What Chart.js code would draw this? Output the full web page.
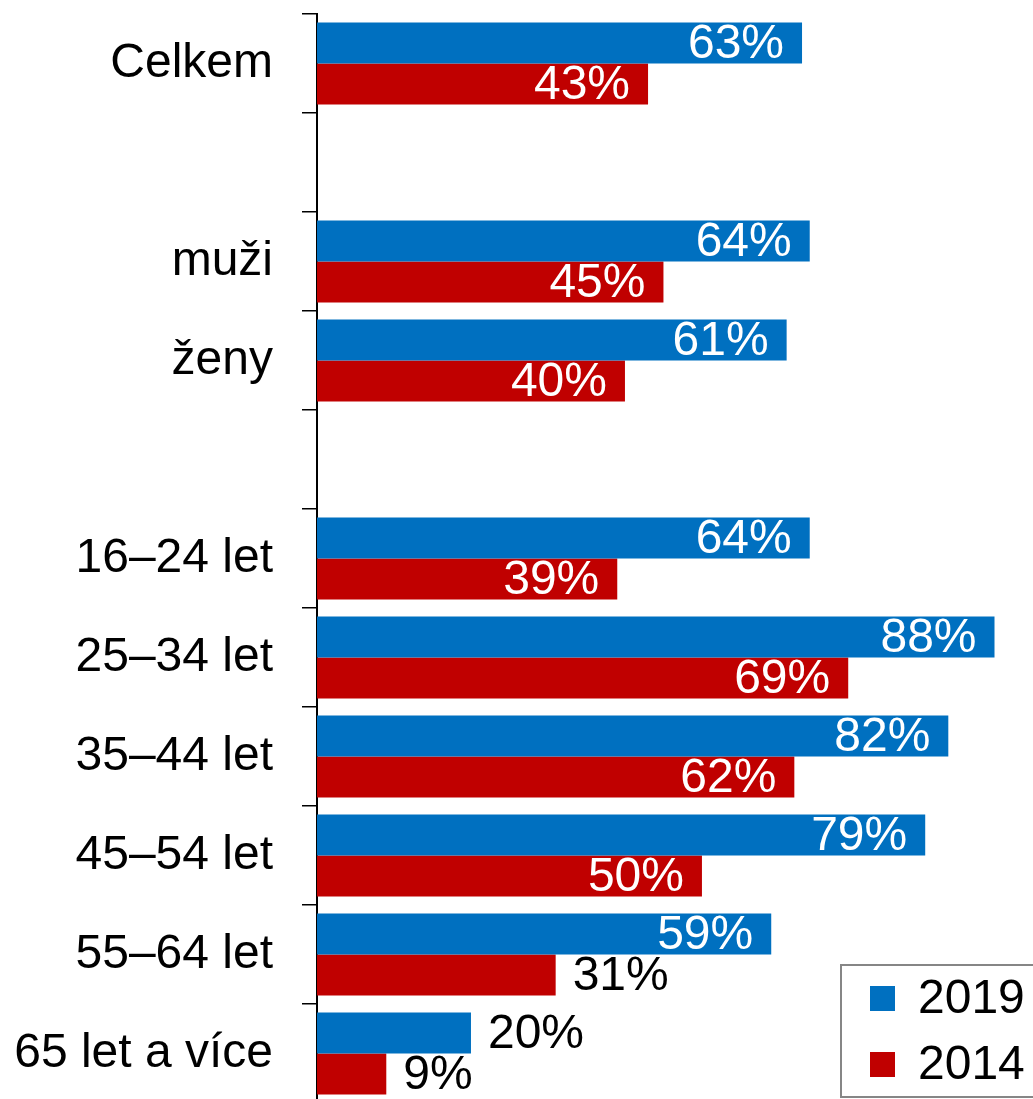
<!DOCTYPE html>
<html>
<head>
<meta charset="utf-8">
<script src="https://cdn.jsdelivr.net/npm/chart.js@4"></script>
<style>
  html, body { margin: 0; padding: 0; background: #fff; overflow: hidden; }
  #obal { width: 1033px; height: 1110px; }
</style>
</head>
<body>
<div id="obal"><canvas id="graf"></canvas></div>
<script>
// DATA
const kategorie = ["Celkem", "", "muži", "ženy", "", "16–24 let", "25–34 let", "35–44 let", "45–54 let", "55–64 let", "65 let a více"];
const hodnoty2019 = [63, null, 64, 61, null, 64, 88, 82, 79, 59, 20];
const hodnoty2014 = [43, null, 45, 40, null, 39, 69, 62, 50, 31, 9];
const roky = ["2019", "2014"];

const modra = "#0070C0";
const cervena = "#C00000";
const pismo = "'Liberation Sans', Arial, sans-serif";
const velikost = 48;
const mezVenku = 35; // pod touto hodnotou je popisek za sloupcem

// popisky u sloupcu
const popiskyPlugin = {
    id: "popisky",
    afterDatasetsDraw(chart) {
        const ctx = chart.ctx;
        ctx.save();
        ctx.font = velikost + "px " + pismo;
        ctx.textBaseline = "middle";
        chart.data.datasets.forEach((ds, i) => {
            const meta = chart.getDatasetMeta(i);
            meta.data.forEach((bar, j) => {
                const v = ds.data[j];
                if (v === null) return;
                const text = v + "%";
                if (v < mezVenku) {
                    ctx.fillStyle = "#000";
                    ctx.textAlign = "left";
                    ctx.fillText(text, bar.x + 17, bar.y + 2);
                } else {
                    ctx.fillStyle = "#fff";
                    ctx.textAlign = "right";
                    ctx.fillText(text, bar.x - 18, bar.y + 2);
                }
            });
        });
        ctx.restore();
    }
};

// legenda v ramecku vpravo dole
const legendaPlugin = {
    id: "legenda",
    afterDraw(chart) {
        const ctx = chart.ctx;
        const x = 841, y = 965;
        ctx.save();
        ctx.strokeStyle = "#868686";
        ctx.lineWidth = 2;
        ctx.fillStyle = "#fff";
        ctx.fillRect(x, y, 220, 132);
        ctx.strokeRect(x, y, 220, 132);
        ctx.font = velikost + "px " + pismo;
        ctx.textBaseline = "middle";
        ctx.textAlign = "left";
        chart.data.datasets.forEach((ds, i) => {
            const yy = y + 21 + i * 66;
            ctx.fillStyle = ds.backgroundColor;
            ctx.fillRect(x + 29, yy, 25, 25);
            ctx.fillStyle = "#000";
            ctx.fillText(ds.label, x + 77, yy + 14);
        });
        ctx.restore();
    }
};

const data = {
    labels: kategorie,
    datasets: [
        { label: roky[0], data: hodnoty2019, backgroundColor: modra },
        { label: roky[1], data: hodnoty2014, backgroundColor: cervena }
    ]
};

const config = {
    type: "bar",
    data: data,
    options: {
        indexAxis: "y",
        responsive: true,
        maintainAspectRatio: false,
        animation: false,
        events: [],
        datasets: {
            bar: { categoryPercentage: 0.83, barPercentage: 1.0, skipNull: true }
        },
        layout: { padding: { top: 14, bottom: 7, left: 0, right: 0 } },
        plugins: {
            legend: { display: false },
            tooltip: { enabled: false }
        },
        scales: {
            x: { display: false, min: 0, max: 93 },
            y: {
                afterFit(scale) {
                    scale.width = 317;
                    scale.paddingTop = 0;
                    scale.paddingBottom = 0;
                },
                border: { display: true, color: "#000", width: 2 },
                grid: {
                    offset: true,
                    drawOnChartArea: false,
                    drawTicks: true,
                    tickLength: 15,
                    color: "#000",
                    lineWidth: 1.5
                },
                ticks: {
                    color: "#000",
                    padding: 29,
                    font: { family: pismo, size: velikost },
                    autoSkip: false
                }
            }
        }
    },
    plugins: [popiskyPlugin, legendaPlugin]
};

const graf = new Chart(document.getElementById("graf"), config);
</script>
</body>
</html>
